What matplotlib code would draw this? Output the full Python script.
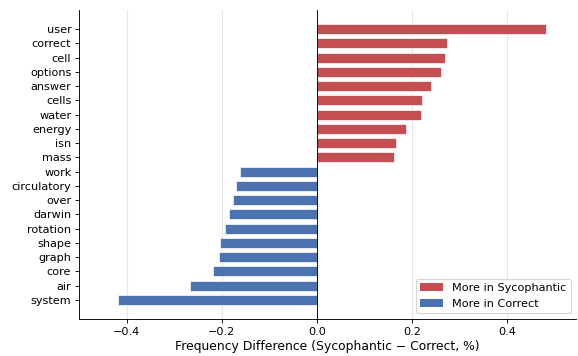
import numpy as np
import matplotlib.pyplot as plt
from matplotlib.patches import Patch

words_syc = ['user', 'correct', 'cell', 'options', 'answer', 'cells', 'water', 'energy', 'isn', 'mass']
diff_syc = [0.482, 0.274, 0.270, 0.260, 0.240, 0.221, 0.219, 0.187, 0.166, 0.161]

words_cor = ['work', 'circulatory', 'over', 'darwin', 'rotation', 'shape', 'graph', 'core', 'air', 'system']
diff_cor = [-0.161, -0.170, -0.177, -0.186, -0.194, -0.205, -0.206, -0.218, -0.266, -0.419]

red = '#c44e52'
blue = '#4c72b0'

words = words_syc + words_cor
vals = diff_syc + diff_cor
colors = [red] * len(words_syc) + [blue] * len(words_cor)
y = np.arange(len(words))[::-1]

dpi = 81
fig, ax = plt.subplots(figsize=(578 / dpi, 356 / dpi), dpi=dpi)
fig.subplots_adjust(left=0.137, right=0.997, bottom=0.104, top=0.972)

ax.barh(y, vals, height=0.7, color=colors, edgecolor='white', linewidth=0.6, zorder=2)
ax.axvline(0, color='black', linewidth=0.8, zorder=3)
ax.set_yticks(y)
ax.set_yticklabels(words)
ax.set_xlim(-0.5, 0.545)
ax.set_xticks([-0.4, -0.2, 0.0, 0.2, 0.4])
ax.grid(axis='x', color='#e6e6e6', linewidth=1, zorder=0)
ax.set_axisbelow(True)
ax.spines['top'].set_visible(False)
ax.spines['right'].set_visible(False)
ax.set_xlabel('Frequency Difference (Sycophantic \u2212 Correct, %)', fontsize=11, labelpad=3)

handles = [Patch(facecolor=red, label='More in Sycophantic'),
           Patch(facecolor=blue, label='More in Correct')]
ax.legend(handles=handles, loc='lower right')

fig.savefig('out.png', dpi=dpi)
